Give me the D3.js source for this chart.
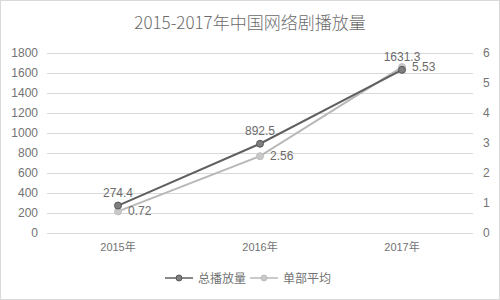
<!DOCTYPE html>
<html>
<head>
<meta charset="utf-8">
<style>
  body { margin: 0; background: #fff; }
  text { font-family: "Liberation Sans", Arial, "Noto Sans CJK SC", sans-serif; }
</style>
</head>
<body>
<div id="chart"></div>
<script src="https://d3js.org/d3.v7.min.js"></script>
<script>
var years = ["2015年", "2016年", "2017年"];
var totalPlays = [274.4, 892.5, 1631.3];
var avgPlays = [0.72, 2.56, 5.53];
var leftTicks = [0, 200, 400, 600, 800, 1000, 1200, 1400, 1600, 1800];
var rightTicks = [0, 1, 2, 3, 4, 5, 6];
var seriesNames = ["总播放量", "单部平均"];

var W = 500, H = 300;
var margin = {top: 53, right: 27, bottom: 67, left: 47};
var width = W - margin.left - margin.right,
    height = H - margin.top - margin.bottom;

var svg = d3.select("#chart").append("svg")
    .attr("width", W).attr("height", H);

svg.append("rect")
    .attr("x", 0.5).attr("y", 0.5)
    .attr("width", W - 1).attr("height", H - 1)
    .attr("fill", "#fff").attr("stroke", "#d9d9d9");

svg.append("text")
    .attr("x", W / 2).attr("y", 29)
    .attr("text-anchor", "middle")
    .style("font-family", "'Noto Sans CJK SC', sans-serif")
    .style("font-size", "17px")
    .style("font-weight", "300")
    .attr("fill", "#6b6b6b")
    .text("2015-2017年中国网络剧播放量");

var g = svg.append("g")
    .attr("transform", "translate(" + margin.left + "," + margin.top + ")");

var x = d3.scaleBand().domain(years).range([0, width]);
var yL = d3.scaleLinear().domain([0, 1800]).range([height, 0]);
var yR = d3.scaleLinear().domain([0, 6]).range([height, 0]);

// gridlines
g.append("g")
    .call(d3.axisLeft(yL).tickValues(leftTicks).tickSize(-width).tickFormat(""))
    .call(function(a) {
        a.select(".domain").remove();
        a.selectAll("line").attr("stroke", "#d9d9d9");
    });

// left axis labels
g.append("g")
    .call(d3.axisLeft(yL).tickValues(leftTicks).tickSize(0).tickPadding(9).tickFormat(d3.format("d")))
    .call(function(a) {
        a.select(".domain").remove();
        a.selectAll("text").attr("fill", "#737373").style("font-size", "12px");
    });

// right axis labels
g.append("g")
    .attr("transform", "translate(" + width + ",0)")
    .call(d3.axisRight(yR).tickValues(rightTicks).tickSize(0).tickPadding(10).tickFormat(d3.format("d")))
    .call(function(a) {
        a.select(".domain").remove();
        a.selectAll("text").attr("fill", "#737373").style("font-size", "12px");
    });

// x axis labels
g.append("g")
    .attr("transform", "translate(0," + height + ")")
    .call(d3.axisBottom(x).tickSize(0).tickPadding(10))
    .call(function(a) {
        a.select(".domain").remove();
        a.selectAll("text").attr("fill", "#737373").style("font-size", "11px")
            .style("font-family", "'Liberation Sans', 'Noto Sans CJK SC', sans-serif");
    });

var cx = function(d, i) { return x(years[i]) + x.bandwidth() / 2; };

var series = [
    {name: seriesNames[0], values: totalPlays, scale: yL, line: "#606060", fill: "#7f7f7f", stroke: "#595959"},
    {name: seriesNames[1], values: avgPlays, scale: yR, line: "#b8b8b8", fill: "#c8c8c8", stroke: "#bfbfbf"}
];

// draw lighter series first so dark line is on top
series.slice().reverse().forEach(function(s) {
    var line = d3.line()
        .x(function(d, i) { return cx(d, i); })
        .y(function(d) { return s.scale(d); });
    g.append("path")
        .datum(s.values)
        .attr("d", line)
        .attr("fill", "none")
        .attr("stroke", s.line)
        .attr("stroke-width", 2);
    g.selectAll(null)
        .data(s.values)
        .enter().append("circle")
        .attr("cx", cx)
        .attr("cy", function(d) { return s.scale(d); })
        .attr("r", 3.5)
        .attr("fill", s.fill)
        .attr("stroke", s.stroke)
        .attr("stroke-width", 1);
});

// data labels
g.selectAll(null)
    .data(totalPlays)
    .enter().append("text")
    .attr("x", cx)
    .attr("y", function(d) { return yL(d) - 9; })
    .attr("text-anchor", "middle")
    .attr("fill", "#6b6b6b")
    .style("font-size", "12px")
    .text(function(d) { return d3.format(".1f")(d); });

g.selectAll(null)
    .data(avgPlays)
    .enter().append("text")
    .attr("x", function(d, i) { return cx(d, i) + 10; })
    .attr("y", function(d) { return yR(d) + 4; })
    .attr("fill", "#6b6b6b")
    .style("font-size", "12px")
    .text(function(d) { return d3.format(".2f")(d); });

// legend
var legend = svg.append("g").attr("transform", "translate(165,278)");
var lx = [0, 85];
series.forEach(function(s, i) {
    var lg = legend.append("g").attr("transform", "translate(" + lx[i] + ",0)");
    lg.append("line").attr("x1", 0).attr("x2", 28).attr("y1", 0).attr("y2", 0)
        .attr("stroke", s.line).attr("stroke-width", 1.5);
    lg.append("circle").attr("cx", 14).attr("cy", 0).attr("r", 3)
        .attr("fill", s.fill).attr("stroke", s.stroke);
    lg.append("text").attr("x", 33).attr("y", 4.5)
        .attr("fill", "#737373")
        .style("font-size", "12px")
        .style("font-family", "'Noto Sans CJK SC', sans-serif")
        .text(s.name);
});
</script>
</body>
</html>
